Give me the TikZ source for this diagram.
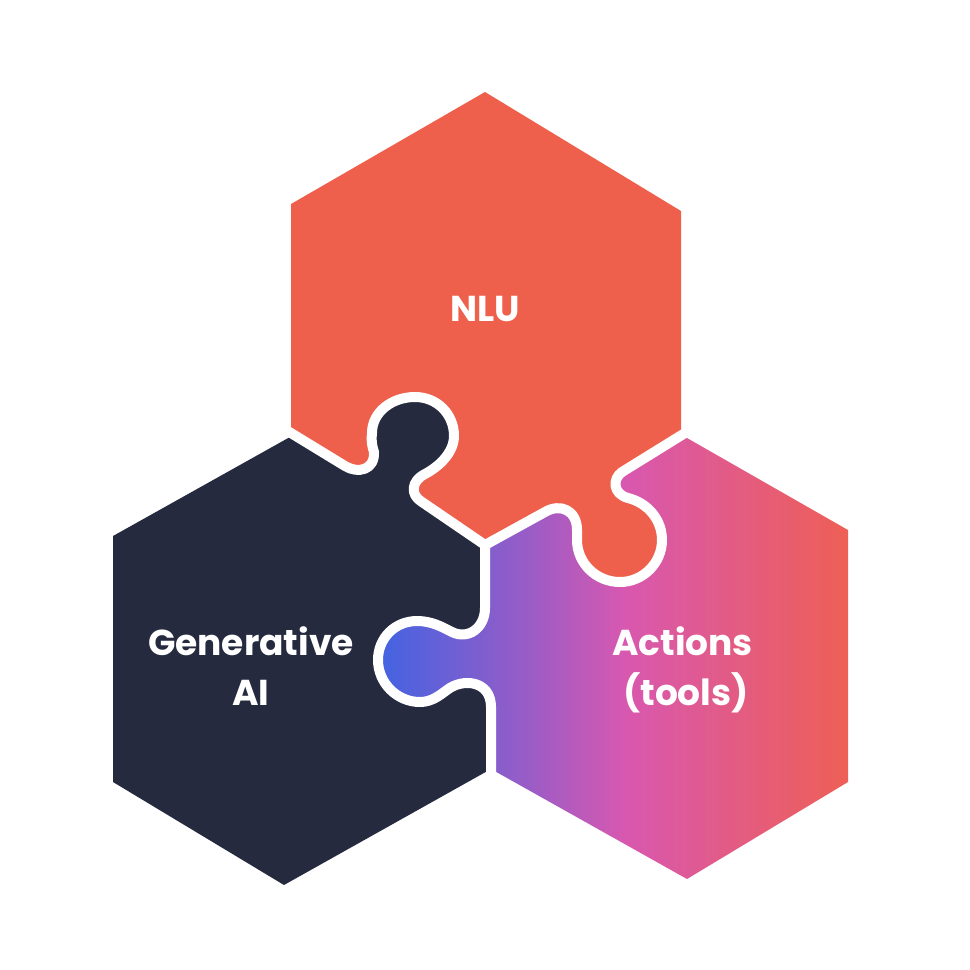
\documentclass[tikz,border=0pt]{standalone}
\usepackage{fontspec}
\setmainfont{Poppins}[UprightFont=*-Bold,BoldFont=*-Bold]
\definecolor{nlured}{HTML}{EE604B}
\definecolor{gendark}{HTML}{252A3F}
\definecolor{gA}{HTML}{4663E0}
\definecolor{gB}{HTML}{9B5CC6}
\definecolor{gC}{HTML}{D858B0}
\definecolor{gD}{HTML}{EE5F55}
\pgfdeclarehorizontalshading{toolsgrad}{100bp}{
  color(0bp)=(gA); color(26.6bp)=(gA); color(41.7bp)=(gB);
  color(51.7bp)=(gC); color(75bp)=(gD); color(100bp)=(gD)}
\def\pathA{(286,430) -- (345,466) .. controls (358,474) and (375,470) .. (374,452) .. controls (372,446) and (371,440) .. (372,433) .. controls (372,412) and (392,397) .. (415,397) .. controls (437,397) and (454,414) .. (454,436) .. controls (454,452) and (440,466) .. (425,474) .. controls (411,481) and (410,495) .. (422,502) -- (485,545)}
\def\pathB{(485,545) -- (545,512) .. controls (560,503) and (577,510) .. (577,530) -- (577,540) .. controls (577,563) and (596,582) .. (620,582) .. controls (643,582) and (662,563) .. (662,540) .. controls (662,520) and (648,503) .. (628,498) .. controls (613,494) and (612,479) .. (622,472) -- (685,433)}
\def\pathC{(485,545) -- (485,608) .. controls (485,628) and (468,640) .. (452,632) .. controls (442,627) and (432,621) .. (417,621) .. controls (395,621) and (378,638) .. (378,660) .. controls (378,683) and (397,702) .. (420,702) .. controls (432,702) and (440,695) .. (447,690) .. controls (462,678) and (491,680) .. (491,707) -- (491,775)}
\tikzset{seam/.style={draw=white,line width=10pt,line join=round},
 label/.style={text=white,font=\fontsize{36}{50}\selectfont,align=center,inner sep=0pt,anchor=base}}
\begin{document}
\begin{tikzpicture}[x=1pt,y=-1pt]
\useasboundingbox (0,0) rectangle (970,970);
\path[shading=toolsgrad] (370,600) -- \pathB -- (687,438) -- (848,530) -- (848,782) -- (687,879) -- (491,769) -- (370,700) -- cycle;
\fill[gendark] (113,536) -- (290,437) -- \pathA -- \pathC -- (491,769) -- (284,885) -- (113,782) -- cycle;
\fill[nlured] (291,204) -- (291,433) -- \pathA -- \pathB -- (681,433) -- (681,211) -- (485,92) -- cycle;
\draw[seam] \pathA;
\draw[seam] \pathB;
\draw[seam] \pathC;
\node[label] (nlu) at (485,321) {NLU};
\node[label] (gen) at (251,655) {Generative};
\node[label] (ai) at (251,705) {AI};
\node[label] (act) at (682.5,655) {Actions};
\node[label] (tls) at (686,705) {(tools)};
\end{tikzpicture}
\end{document}
